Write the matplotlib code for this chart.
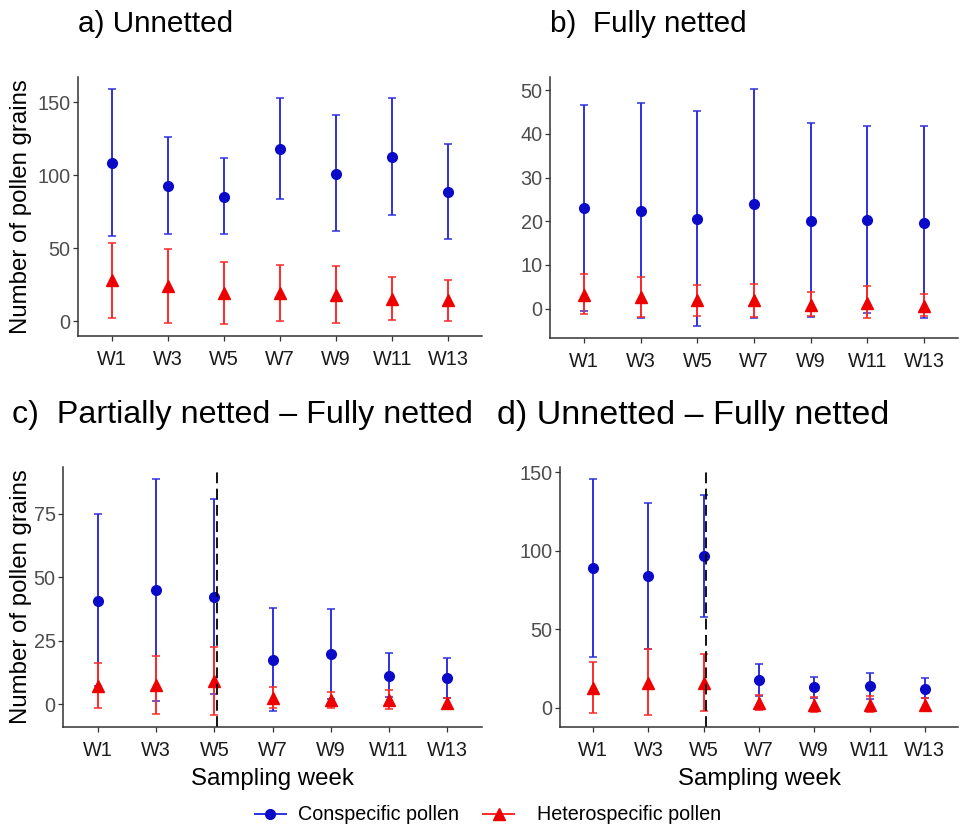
import numpy as np
import matplotlib
matplotlib.use('Agg')
from matplotlib import pyplot as plt
from matplotlib.lines import Line2D

plt.rcParams['font.family'] = ['Liberation Sans', 'DejaVu Sans']

weeks = ['W1', 'W3', 'W5', 'W7', 'W9', 'W11', 'W13']

# a) Unnetted
a_con_mean = [108.8, 93.0, 85.4, 118.2, 101.2, 112.7, 88.8]
a_con_low = [58.2, 60.0, 59.5, 83.6, 61.6, 72.6, 56.6]
a_con_high = [159.4, 126.2, 111.7, 153.4, 141.1, 153.2, 121.6]
a_het_mean = [28.0, 24.0, 19.2, 19.2, 18.0, 15.5, 14.2]
a_het_low = [2.3, -1.4, -2.1, 0.2, -1.6, 0.9, 0.2]
a_het_high = [53.8, 49.5, 40.5, 38.5, 37.8, 30.2, 28.4]

# b) Fully netted
b_con_mean = [23.0, 22.4, 20.5, 24.0, 20.1, 20.2, 19.7]
b_con_low = [-0.5, -2.2, -4.0, -2.2, -2.0, -1.1, -2.2]
b_con_high = [46.6, 47.1, 45.3, 50.3, 42.6, 41.7, 41.7]
b_het_mean = [3.2, 2.6, 1.9, 1.9, 0.9, 1.3, 0.7]
b_het_low = [-1.2, -1.8, -1.6, -1.8, -1.6, -2.1, -1.7]
b_het_high = [7.9, 7.3, 5.4, 5.6, 3.8, 5.1, 3.3]

# c) Partially netted - Fully netted
c_con_mean = [40.8, 45.0, 42.1, 17.6, 19.7, 11.3, 10.3]
c_con_low = [7.0, 1.3, 3.9, -2.6, 2.0, 3.0, 2.6]
c_con_high = [75.0, 88.7, 80.6, 38.0, 37.5, 20.0, 18.3]
c_het_mean = [7.3, 7.4, 9.0, 2.4, 1.5, 1.7, 0.5]
c_het_low = [-1.3, -3.7, -4.3, -1.3, -1.4, -2.0, -0.9]
c_het_high = [16.2, 18.9, 22.4, 6.7, 4.7, 5.7, 2.6]

# d) Unnetted - Fully netted
d_con_mean = [88.9, 84.1, 96.6, 17.5, 13.1, 13.7, 12.0]
d_con_low = [32.5, 37.6, 57.7, 7.8, 6.5, 5.7, 6.3]
d_con_high = [145.8, 130.4, 135.4, 27.9, 19.9, 22.4, 18.8]
d_het_mean = [12.8, 16.0, 16.0, 3.4, 1.7, 2.1, 2.1]
d_het_low = [-3.2, -4.6, -1.7, -1.5, -2.3, -2.5, -1.1]
d_het_high = [29.4, 37.4, 34.2, 8.0, 7.0, 7.8, 6.5]

W, H = 960, 827
fig = plt.figure(figsize=(9.6, 8.27), dpi=100)


def add_ax(left, top, right, bottom):
    return fig.add_axes([left / W, 1 - bottom / H, (right - left) / W, (bottom - top) / H])


blue_pt, blue_bar = '#0a0ac8', '#2f2fe0'
red_pt, red_bar = '#ee0000', '#ff2a2a'


def panel(ax, con, het, yticks, vline=None):
    x = np.arange(1, 8)
    for (m, lo, hi), pc, bc, mk, ms in [(con, blue_pt, blue_bar, 'o', 7),
                                        (het, red_pt, red_bar, '^', 8)]:
        m = np.array(m)
        err = [m - np.array(lo), np.array(hi) - m]
        ax.errorbar(x, m, yerr=err, fmt='none', ecolor=bc, elinewidth=1.4,
                    capsize=2.6, capthick=1.1)
        ax.plot(x, m, linestyle='none', marker=mk, markersize=ms, color=pc)
    if vline is not None:
        ax.axvline(vline, color='black', linestyle=(0, (6, 3)), linewidth=1.3)
    ax.set_xlim(0.4, 7.6)
    ax.margins(y=0.05)
    ax.set_xticks(x)
    ax.set_xticklabels(weeks)
    ax.set_yticks(yticks)
    for s in ['top', 'right']:
        ax.spines[s].set_visible(False)
    for s in ['left', 'bottom']:
        ax.spines[s].set_color('#333333')
        ax.spines[s].set_linewidth(1.1)
    ax.tick_params(axis='both', length=3.3, width=0.9, color='#333333', labelsize=14.3)
    ax.tick_params(axis='x', pad=7, labelcolor='#1a1a1a')
    ax.tick_params(axis='y', pad=2, labelcolor='#4d4d4d')


ax_a = add_ax(78, 77, 482, 336)
panel(ax_a, (a_con_mean, a_con_low, a_con_high), (a_het_mean, a_het_low, a_het_high), [0, 50, 100, 150])
ax_b = add_ax(550, 77, 958, 338)
panel(ax_b, (b_con_mean, b_con_low, b_con_high), (b_het_mean, b_het_low, b_het_high), [0, 10, 20, 30, 40, 50])
ax_c = add_ax(63, 467, 482, 727)
panel(ax_c, (c_con_mean, c_con_low, c_con_high), (c_het_mean, c_het_low, c_het_high), [0, 25, 50, 75], vline=3.04)
ax_d = add_ax(560, 467, 958, 727)
panel(ax_d, (d_con_mean, d_con_low, d_con_high), (d_het_mean, d_het_low, d_het_high), [0, 50, 100, 150], vline=3.05)

# titles
fig.text(78 / W, 1 - 24 / H, 'a) Unnetted', fontsize=21.4, va='center', ha='left')
fig.text(550 / W, 1 - 24 / H, 'b)  Fully netted', fontsize=21.4, va='center', ha='left')
fig.text(12 / W, 1 - 415 / H, 'c)  Partially netted \u2013 Fully netted', fontsize=23.2, va='center', ha='left')
fig.text(497 / W, 1 - 415 / H, 'd) Unnetted \u2013 Fully netted', fontsize=24.5, va='center', ha='left')

# axis labels
fig.text(21 / W, 1 - 207 / H, 'Number of pollen grains', fontsize=17.3, rotation=90, va='center', ha='center')
fig.text(21 / W, 1 - 597 / H, 'Number of pollen grains', fontsize=17.3, rotation=90, va='center', ha='center')
fig.text(272 / W, 1 - 779 / H, 'Sampling week', fontsize=17.3, va='center', ha='center')
fig.text(759 / W, 1 - 779 / H, 'Sampling week', fontsize=17.3, va='center', ha='center')

handles = [
    Line2D([0], [0], color=blue_bar, lw=1.4, marker='o', markersize=7, markerfacecolor=blue_pt, markeredgecolor=blue_pt),
    Line2D([0], [0], color=red_bar, lw=1.4, marker='^', markersize=8, markerfacecolor=red_pt, markeredgecolor=red_pt),
]
fig.legend(handles, ['Conspecific pollen', '  Heterospecific pollen'], loc='center',
           bbox_to_anchor=(488 / W, 1 - 815 / H), ncol=2, frameon=False, fontsize=14.2,
           handlelength=1.6, handletextpad=0.6, columnspacing=1.2)

fig.savefig('out.png', dpi=100)
